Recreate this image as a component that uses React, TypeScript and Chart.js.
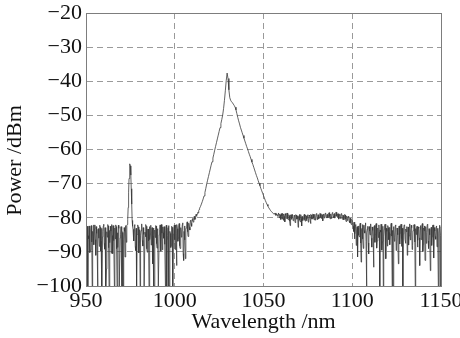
import React, { useEffect, useRef } from "react";
import { Chart, registerables } from "chart.js";

Chart.register(...registerables);

const xTicks = [950, 1000, 1050, 1100, 1150];
const yTicks = [-100, -90, -80, -70, -60, -50, -40, -30, -20];

// Power values (dBm), segment by segment: [start nm, step nm, values]
const segA = [ // noise floor 950–973
  -84.2, -82.7, -88.9, -82.5, -100, -85.3, -86.1, -82.4, -83.0, -90.2,
  -89.5, -83.6, -82.3, -87.1, -100, -84.0, -85.4, -82.1, -87.9, -83.3,
  -82.1, -86.4, -91.0, -82.6, -84.6, -88.3, -100, -83.5, -83.2, -86.0,
  -88.4, -82.2, -82.8, -89.7, -86.9, -83.1, -100, -85.6, -84.0, -82.4,
  -81.9, -87.5, -89.2, -82.9, -83.5, -100, -95.0, -84.1, -85.7, -82.0,
  -82.4, -88.8, -100, -83.7, -87.3, -82.5, -83.9, -90.4, -82.0, -85.2,
  -90.5, -82.3, -84.8, -86.7, -100, -83.0, -86.2, -82.1, -82.6, -89.1,
  -100, -84.4, -88.7, -82.2, -83.1, -100, -100, -85.9, -85.0, -82.6,
  -100, -83.8, -84.3, -100, -100, -86.5, -82.9, -84.0, -91.5, -82.3,
  -83.6, -87.2, -82.2,
];
const segB = [ // pump line near 975 nm
  -82.0, -80.5, -77.0, -72.5, -68.5, -65.5, -64.2, -64.8, -67.5, -71.5,
  -76.0, -80.8, -82.5,
];
const segC = [ // noise floor 976.5–1005
  -83.4, -85.9, -86.8, -82.3, -82.0, -88.4, -89.6, -83.1, -100, -84.9,
  -84.5, -82.1, -82.7, -90.3, -87.2, -83.5, -100, -85.1, -83.8, -82.4,
  -81.8, -86.6, -88.3, -82.9, -84.9, -100, -100, -84.2, -85.6, -82.0,
  -82.5, -89.1, -90.1, -83.4, -83.3, -86.8, -100, -82.6, -86.4, -84.7,
  -82.2, -88.0, -84.7, -82.9, -93.5, -85.3, -83.0, -100, -100, -83.6,
  -85.8, -82.3, -82.4, -87.6, -88.9, -83.2, -84.1, -100, -100, -85.0,
  -83.5, -82.1, -86.7, -89.8, -82.0, -84.5, -89.4, -82.7, -84.4, -86.0,
  -82.6, -83.8, -87.8, -100, -83.7, -82.2, -100, -86.3, -85.2, -82.9,
  -82.3, -100, -100, -84.0, -84.6, -88.7, -88.1, -82.5, -82.8, -100,
  -100, -84.8, -83.9, -82.2, -86.5, -89.3, -82.1, -84.6, -94.0, -82.0,
  -83.2, -86.9, -85.9, -82.4, -81.7, -88.2, -89.0, -83.0, -82.9, -85.7,
  -84.2, -82.0, -81.5, -90.5, -92.5,
];
const segD = [ // noise merging into the rising edge 1005.25–1013.75
  -84.0, -82.4, -86.5, -92.0, -83.3, -83.0, -81.9, -81.2, -84.1, -85.5,
  -82.0, -81.6, -82.8, -83.6, -80.9, -80.7, -81.7, -82.5, -80.6, -80.2,
  -80.8, -81.3, -79.9, -79.6, -80.5, -80.4, -79.4, -79.0, -79.6, -79.3,
  -78.8, -78.4, -78.6, -77.9, -77.6,
];
const segE = [ // main emission peak 1014–1058
  -77.2, -76.7, -76.0, -75.3, -74.5, -73.6, -72.6, -71.4, -70.1, -69.0,
  -67.9, -66.8, -65.7, -64.6, -63.6, -62.5, -61.4, -60.2, -59.1, -58.0,
  -56.9, -55.8, -54.7, -53.6, -52.4, -51.2, -49.9, -48.0, -45.6, -42.8,
  -39.8, -37.6, -39.2, -42.5, -44.8, -45.6, -46.0, -46.3, -46.7, -47.1,
  -47.6, -48.4, -49.5, -50.6, -51.6, -52.5,
  -53.5, -54.3, -55.1, -55.9, -56.7, -57.5, -58.3, -59.1, -59.8, -60.6,
  -61.4, -62.1, -62.9, -63.7, -64.4, -65.2, -66.0, -66.8, -67.6, -68.3,
  -69.1, -69.9, -70.6, -71.4, -72.1, -72.8, -73.5, -74.2, -74.9, -75.5,
  -76.1, -76.6, -77.1, -77.5, -77.9, -78.2, -78.5, -78.7, -79.0, -78.6,
  -79.3, -78.9, -79.6,
];
const segF = [ // ASE shoulder 1058.5–1100
  -78.6, -79.7, -80.1, -78.9, -79.2, -80.5, -78.8, -79.4, -80.4, -78.7,
  -79.5, -80.8, -78.9, -79.6, -81.2, -78.8, -79.3, -80.2, -79.9, -78.6,
  -78.7, -80.3, -80.6, -79.1, -79.4, -81.0, -82.3, -79.2, -79.1, -80.5,
  -80.2, -79.0, -79.0, -80.9, -80.8, -79.3, -79.6, -81.3, -81.5, -79.1,
  -79.2, -80.4, -80.3, -79.5, -82.8, -80.0, -79.4, -79.0, -80.7, -81.2,
  -79.1, -80.2, -82.4, -79.6, -79.8, -80.8, -80.1, -79.3, -79.0, -80.6,
  -81.0, -79.2, -79.5, -80.9, -80.4, -79.4, -79.1, -81.3, -80.9, -79.2,
  -79.6, -80.5, -81.7, -79.0, -79.2, -80.4, -80.3, -78.9, -79.0, -80.1,
  -80.6, -79.0, -79.4, -80.7, -80.0, -78.8, -78.9, -80.2, -80.5, -79.1,
  -79.3, -80.3, -79.8, -78.7, -78.8, -79.9, -80.2, -79.0, -79.1, -80.6,
  -80.9, -79.0, -78.9, -80.1, -79.7, -78.7, -78.6, -79.8, -80.1, -79.1,
  -79.0, -80.0, -79.5, -78.6, -78.5, -79.7, -80.3, -79.2, -78.9, -80.2,
  -79.4, -78.5, -78.6, -79.6, -80.0, -78.9, -78.7, -80.1, -79.3, -78.4,
  -78.4, -79.5, -79.8, -78.9, -78.8, -79.9, -80.4, -79.1, -79.0, -80.2,
  -79.6, -78.8, -78.9, -80.3, -80.5, -79.2, -79.3, -80.6, -80.0, -79.0,
  -79.2, -80.4, -81.1, -79.5, -79.6, -80.8, -80.3, -79.6, -79.8, -81.0,
  -81.4, -80.1, -80.2, -81.5, -82.0, -80.4, -80.6,
];
const segG = [ // noise floor 1100.5–1150
  -82.5, -84.0, -81.3, -86.2, -84.7, -82.2, -82.0, -88.1, -83.9, -82.6,
  -91.5, -83.0, -82.4, -85.1, -85.6, -82.3, -81.6, -87.4, -93.0, -83.5,
  -83.1, -82.0, -86.2, -89.0, -82.2, -83.8, -84.5, -82.1, -81.5, -86.9,
  -100, -84.4, -83.3, -82.5, -87.4, -90.6, -82.6, -83.9, -85.0, -82.3,
  -81.8, -86.0, -88.6, -82.7, -83.7, -85.5, -94.5, -82.8, -82.3, -87.2,
  -84.9, -82.1, -81.7, -88.9, -86.8, -83.3, -83.0, -85.8, -82.1, -84.1,
  -100, -83.6, -84.2, -81.9, -82.0, -89.5, -87.0, -82.5, -100, -85.4,
  -83.4, -82.2, -81.9, -86.7, -92.0, -83.1, -84.0, -88.3, -82.3, -82.9,
  -86.4, -84.3, -82.8, -87.9, -84.8, -82.0, -81.6, -85.4, -100, -83.7,
  -100, -82.6, -83.5, -86.9, -85.8, -82.3, -82.1, -89.6, -88.0, -83.0,
  -83.2, -85.0, -93.5, -82.5, -82.4, -87.7, -84.6, -82.2, -81.9, -88.4,
  -86.1, -83.1, -100, -84.7, -83.0, -82.1, -82.2, -86.3, -87.5, -83.3,
  -84.1, -82.6, -91.0, -84.4, -82.7, -88.0, -85.3, -82.4, -81.8, -86.5,
  -84.4, -82.2, -82.9, -89.3, -88.2, -83.8, -83.6, -82.1, -82.0, -87.1,
  -100, -83.2, -84.9, -82.8, -82.5, -88.6, -86.6, -82.7, -83.1, -85.9,
  -94.0, -83.4, -82.3, -86.4, -85.2, -82.5, -81.7, -89.9, -87.8, -83.0,
  -83.8, -82.4, -92.5, -84.2, -82.6, -87.5, -84.3, -82.0, -81.9, -86.8,
  -89.0, -83.2, -83.4, -85.0, -95.5, -83.6, -82.8, -88.1, -85.6, -82.3,
  -82.1, -87.0, -91.8, -82.9, -83.9, -85.5, -86.3, -82.6, -82.4, -88.5,
  -84.7, -83.1, -100, -84.5, -83.0, -82.2, -100, -85.1, -82.6,
];

const segments: [number, number, number[]][] = [
  [950, 0.25, segA],
  [973.25, 0.25, segB],
  [976.5, 0.25, segC],
  [1005.25, 0.25, segD],
  [1014, 0.5, segE],
  [1058.5, 0.25, segF],
  [1100.5, 0.25, segG],
];

const FONT = '"Liberation Serif", "Times New Roman", serif';
const FS = 22;

function fmt(v: number) {
  return v < 0 ? "\u2212" + Math.abs(v) : String(v);
}

const framePlugin = {
  id: "frame",
  afterDraw(chart: any) {
    const { ctx, chartArea } = chart;
    ctx.save();
    ctx.strokeStyle = "#7d7d7d";
    ctx.lineWidth = 1;
    ctx.strokeRect(
      Math.round(chartArea.left) + 0.5,
      Math.round(chartArea.top) + 0.5,
      Math.round(chartArea.right - chartArea.left),
      Math.round(chartArea.bottom - chartArea.top)
    );
    ctx.restore();
  },
};

export default function App() {
  const ref = useRef<HTMLCanvasElement | null>(null);

  useEffect(() => {
    document.body.style.margin = "0";
    const points: { x: number; y: number }[] = [];
    for (const [start, step, vals] of segments) {
      vals.forEach((v, i) => points.push({ x: start + i * step, y: v }));
    }
    const chart = new Chart(ref.current as HTMLCanvasElement, {
      type: "line",
      data: {
        datasets: [
          {
            data: points,
            borderColor: "#3a3a3a",
            borderWidth: 0.8,
            pointRadius: 0,
            tension: 0,
            fill: false,
          },
        ],
      },
      options: {
        animation: false,
        responsive: false,
        devicePixelRatio: 1,
        layout: { padding: { left: 0, right: 19, top: 13, bottom: 0 } },
        plugins: { legend: { display: false }, tooltip: { enabled: false } },
        scales: {
          x: {
            type: "linear",
            min: xTicks[0],
            max: xTicks[xTicks.length - 1],
            afterBuildTicks: (s: any) => {
              s.ticks = xTicks.map((v) => ({ value: v }));
            },
            afterFit: (s: any) => {
              s.height = 52;
              s.paddingLeft = 0;
              s.paddingRight = 0;
            },
            ticks: {
              color: "#111",
              font: { family: FONT, size: FS },
              padding: 2,
              maxRotation: 0,
              autoSkip: false,
              callback: (v: any) => fmt(Number(v)),
            },
            grid: { color: "#9a9a9a", drawTicks: false, lineWidth: 1 },
            border: { display: true, color: "#7d7d7d", dash: [6, 4] },
            title: {
              display: true,
              text: "Wavelength /nm",
              color: "#111",
              font: { family: FONT, size: FS },
              padding: { top: 0, bottom: 3 },
            },
          },
          y: {
            type: "linear",
            min: yTicks[0],
            max: yTicks[yTicks.length - 1],
            afterBuildTicks: (s: any) => {
              s.ticks = yTicks.map((v) => ({ value: v }));
            },
            afterFit: (s: any) => {
              s.width = 86;
              s.paddingTop = 0;
              s.paddingBottom = 0;
            },
            ticks: {
              color: "#111",
              font: { family: FONT, size: FS },
              padding: 4,
              autoSkip: false,
              callback: (v: any) => fmt(Number(v)),
            },
            grid: { color: "#9a9a9a", drawTicks: false, lineWidth: 1 },
            border: { display: true, color: "#7d7d7d", dash: [6, 4] },
            title: {
              display: true,
              text: "Power /dBm    ",
              color: "#111",
              font: { family: FONT, size: FS },
              padding: { top: 2, bottom: 0 },
            },
          },
        },
      },
      plugins: [framePlugin],
    });
    return () => chart.destroy();
  }, []);

  return (
    <div style={{ position: "fixed", left: 0, top: 0, width: 460, height: 338, background: "#fff" }}>
      <canvas ref={ref} width={460} height={338} style={{ display: "block", width: 460, height: 338 }} />
    </div>
  );
}
